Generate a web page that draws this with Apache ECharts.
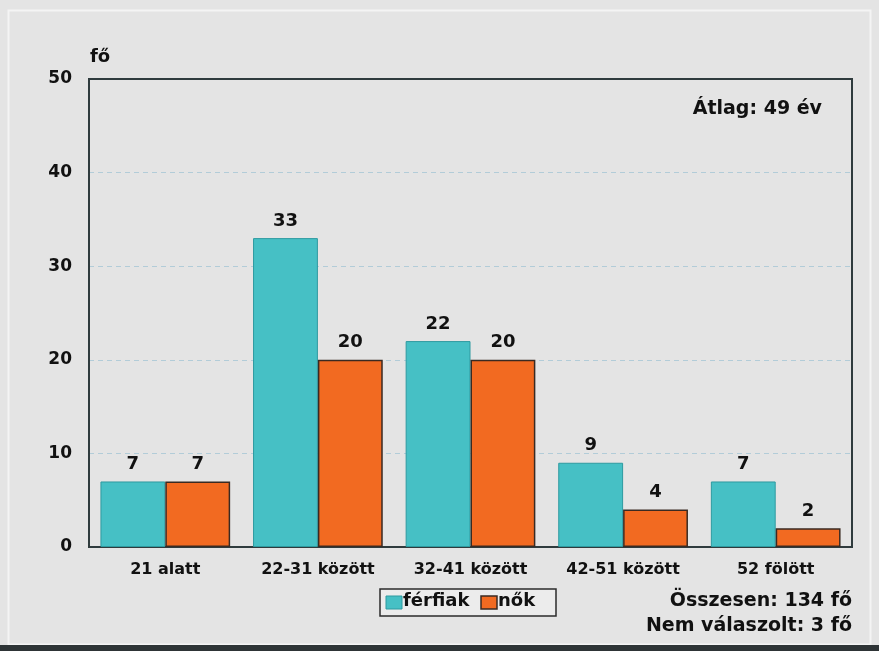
<!DOCTYPE html>
<html>
<head>
<meta charset="utf-8">
<script src="https://cdn.jsdelivr.net/npm/echarts@6/dist/echarts.min.js"></script>
<style>
html,body{margin:0;padding:0;background:#e4e4e4;}
#chart{width:879px;height:651px;}
</style>
</head>
<body>
<div id="chart"></div>
<script>
// Age groups of respondents, split by gender
const categories = ['21 alatt', '22-31 között', '32-41 között', '42-51 között', '52 fölött'];
const ferfiak = [7, 33, 22, 9, 7];
const nok = [7, 20, 20, 4, 2];
const yTicks = [0, 10, 20, 30, 40, 50];

const FONT = '"DejaVu Sans", Verdana, sans-serif';
const TEAL = '#46c0c5';
const ORANGE = '#f26a21';

const chart = echarts.init(document.getElementById('chart'));

const labelStyle = {
  show: true,
  position: 'top',
  distance: 8,
  color: '#111',
  fontFamily: FONT,
  fontWeight: 'bold',
  fontSize: 18
};

chart.setOption({
  backgroundColor: '#e4e4e4',
  animation: false,
  grid: { left: 89, right: 27, top: 79, bottom: 104, show: true, borderColor: '#2f3b3d', borderWidth: 2, backgroundColor: 'transparent' },
  xAxis: {
    type: 'category',
    data: categories,
    axisLine: { show: true, lineStyle: { color: '#2f3b3d', width: 2 } },
    axisTick: { show: false },
    axisLabel: { color: '#111', fontFamily: FONT, fontWeight: 'bold', fontSize: 16, margin: 15 }
  },
  yAxis: {
    type: 'value',
    min: yTicks[0],
    max: yTicks[yTicks.length - 1],
    interval: 10,
    axisLine: { show: true, lineStyle: { color: '#2f3b3d', width: 2 } },
    axisTick: { show: false },
    axisLabel: { color: '#111', fontFamily: FONT, fontWeight: 'bold', fontSize: 17, margin: 17 },
    splitLine: { show: true, showMaxLine: false, showMinLine: false, lineStyle: { color: '#b2ccd8', type: [5, 4], width: 1 } }
  },
  series: [
    {
      name: 'férfiak',
      type: 'bar',
      data: ferfiak,
      barGap: '0%',
      barCategoryGap: '15%',
      itemStyle: { color: TEAL, borderColor: '#2e9aa0', borderWidth: 1 },
      label: labelStyle
    },
    {
      name: 'nők',
      type: 'bar',
      data: nok,
      itemStyle: { color: ORANGE, borderColor: '#3a2a22', borderWidth: 1.5 },
      label: labelStyle
    }
  ],
  graphic: [
    // outer bevelled frame
    { type: 'rect', z: -10, shape: { x: 8.5, y: 10.5, width: 862, height: 634 }, style: { fill: 'transparent', stroke: '#f4f4f4', lineWidth: 2 } },
    { type: 'rect', z: -10, shape: { x: 0, y: 645, width: 879, height: 6 }, style: { fill: '#2e3436' } },
    { type: 'text', left: 90, top: 48, style: { text: 'fő', font: 'bold 18px ' + FONT, fill: '#111' } },
    { type: 'text', right: 57, top: 100, style: { text: 'Átlag: 49 év', font: 'bold 19px ' + FONT, fill: '#111' } },
    { type: 'text', right: 27, top: 592, style: { text: 'Összesen: 134 fő', font: 'bold 19px ' + FONT, fill: '#111' } },
    { type: 'text', right: 27, top: 617, style: { text: 'Nem válaszolt: 3 fő', font: 'bold 19px ' + FONT, fill: '#111' } },
    // legend box
    { type: 'rect', shape: { x: 380, y: 589, width: 176, height: 27 }, style: { fill: '#ececec', stroke: '#2b2b2b', lineWidth: 1.5 } },
    { type: 'rect', shape: { x: 386, y: 596, width: 16, height: 13 }, style: { fill: TEAL, stroke: '#2e9aa0', lineWidth: 1 } },
    { type: 'text', left: 403, top: 592, style: { text: 'férfiak', font: 'bold 18px ' + FONT, fill: '#111' } },
    { type: 'rect', shape: { x: 481, y: 596, width: 16, height: 13 }, style: { fill: ORANGE, stroke: '#3a2a22', lineWidth: 1.5 } },
    { type: 'text', left: 498, top: 592, style: { text: 'nők', font: 'bold 18px ' + FONT, fill: '#111' } }
  ]
});
</script>
</body>
</html>
